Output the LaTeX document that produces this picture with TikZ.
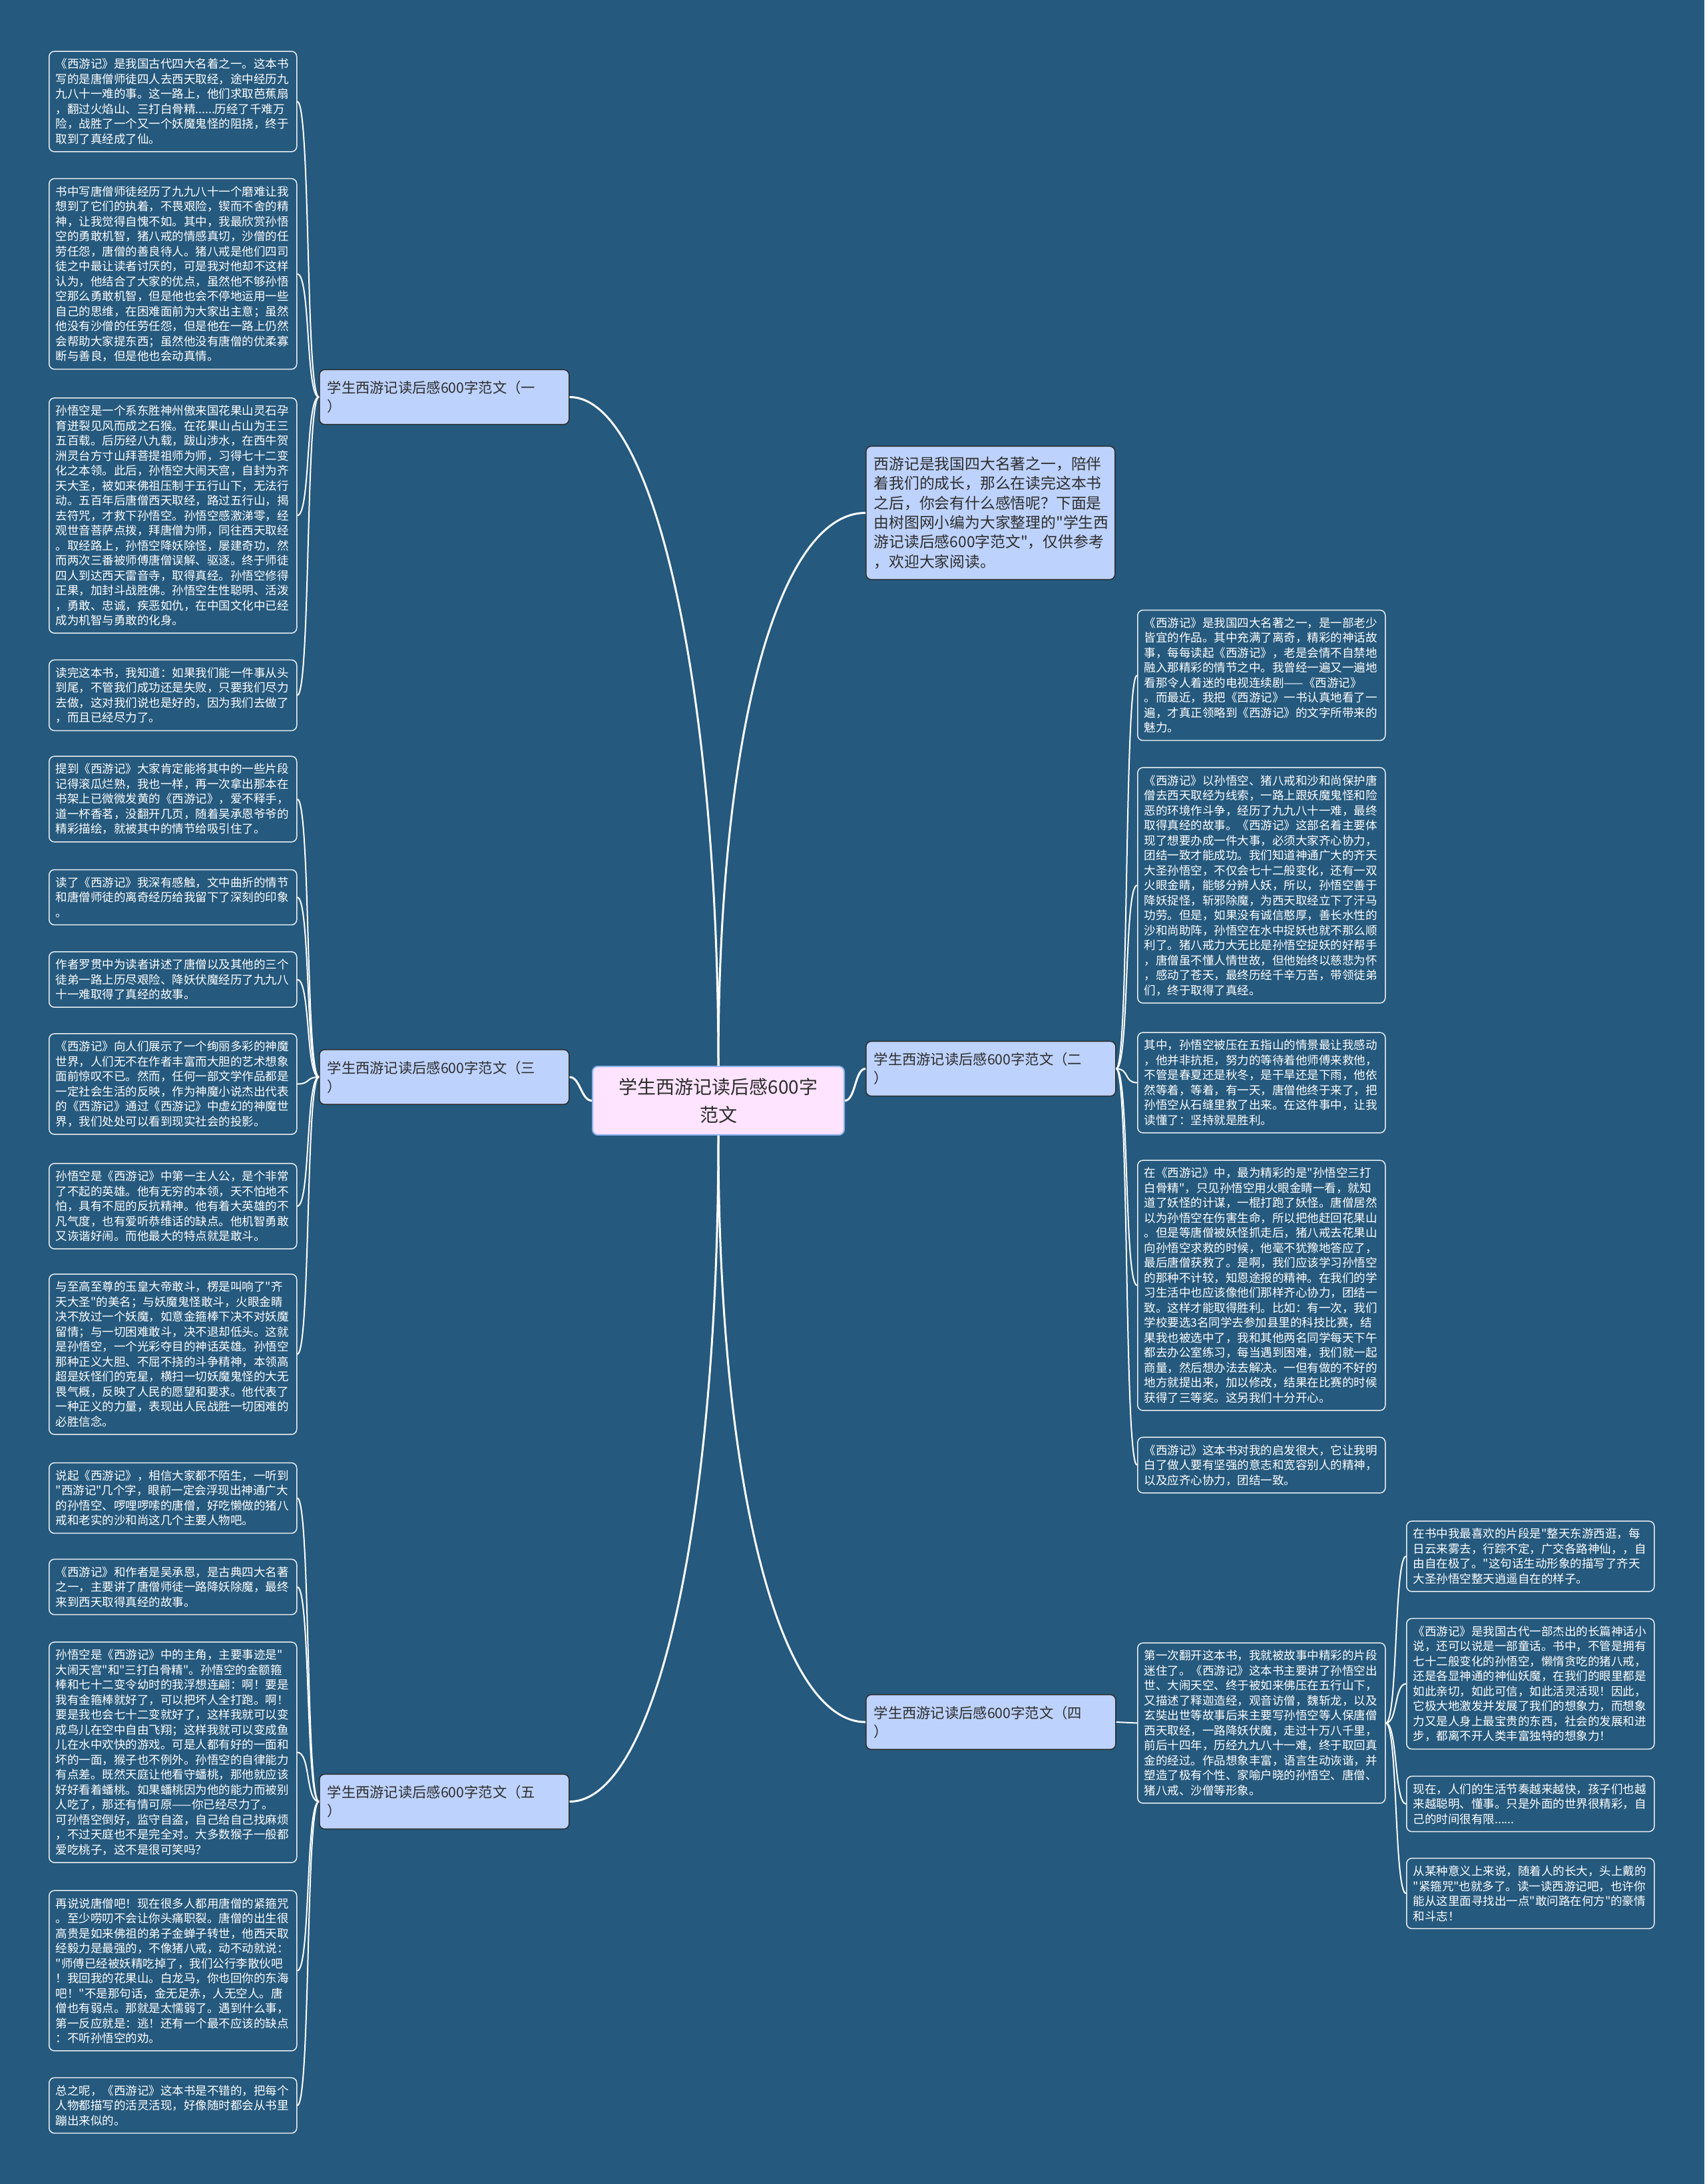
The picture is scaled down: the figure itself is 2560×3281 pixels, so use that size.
\documentclass[tikz,border=0pt]{standalone}
\usepackage{fontspec}
\setmainfont{Noto Sans CJK SC}
\newfontfamily\cjk{Noto Sans CJK SC}
\definecolor{bg}{RGB}{37,89,125}
\definecolor{bfill}{RGB}{189,210,252}
\definecolor{cfill}{RGB}{255,228,255}
\definecolor{cline}{RGB}{140,180,240}
\definecolor{dtext}{RGB}{45,45,45}
\begin{document}
\begin{tikzpicture}[x=0.5pt,y=-0.5pt,
  leaf/.style={draw=white!90!bg, fill=bg, rounded corners=4pt, line width=0.75pt,
    text=white, font=\cjk\fontsize{8.75}{11.25}\selectfont, text width=176pt,
    inner xsep=5pt, inner ysep=5.5pt, align=left, anchor=west},
  branch/.style={draw=dtext, fill=bfill, rounded corners=4pt, line width=0.75pt,
    text=dtext, font=\cjk\fontsize{10.65}{14}\selectfont, text width=175.5pt,
    inner xsep=6pt, inner ysep=8.5pt, align=left, anchor=west},
  intro/.style={draw=dtext, fill=bfill, rounded corners=4pt, line width=0.75pt,
    text=dtext, font=\cjk\fontsize{11.4}{14.65}\selectfont, text width=175pt,
    inner xsep=6pt, inner ysep=8pt, align=left, anchor=west},
  ctrbox/.style={draw=cline, fill=cfill, rounded corners=4pt, line width=1pt,
    text=dtext, font=\cjk\fontsize{14}{21}\selectfont, text width=175pt,
    inner xsep=7pt, inner ysep=8.75pt, align=center},
  mainedge/.style={draw=white, line width=1.5pt},
  leafedge/.style={draw=white, line width=1pt}
]
\fill[bg] (0,0) rectangle (2560,3281);
\useasboundingbox (0,0) rectangle (2560,3281);

% ---------- centre, intro, branches ----------
\node[ctrbox] (ctr) at (1079,1653.5) {学生西游记读后感600字\\范文};
\node[intro] (intro) at (1300,770.5) {西游记是我国四大名著之一，陪伴\\着我们的成长，那么在读完这本书\\之后，你会有什么感悟呢？下面是\\由树图网小编为大家整理的"学生西\\游记读后感600字范文"，仅供参考\\，欢迎大家阅读。};
\node[branch] (b1) at (479,596.5) {学生西游记读后感600字范文（一\\）};
\node[branch] (b3) at (479,1618) {学生西游记读后感600字范文（三\\）};
\node[branch] (b5) at (479,2706.5) {学生西游记读后感600字范文（五\\）};
\node[branch] (b2) at (1300,1605.5) {学生西游记读后感600字范文（二\\）};
\node[branch] (b4) at (1300,2587) {学生西游记读后感600字范文（四\\）};

% ---------- branch (一) leaves ----------
\node[leaf] (l1) at (73,152.5) {《西游记》是我国古代四大名着之一。这本书\\写的是唐僧师徒四人去西天取经，途中经历九\\九八十一难的事。这一路上，他们求取芭蕉扇\\，翻过火焰山、三打白骨精......历经了千难万\\险，战胜了一个又一个妖魔鬼怪的阻挠，终于\\取到了真经成了仙。};
\node[leaf] (l2) at (73,411.5) {书中写唐僧师徒经历了九九八十一个磨难让我\\想到了它们的执着，不畏艰险，锲而不舍的精\\神，让我觉得自愧不如。其中，我最欣赏孙悟\\空的勇敢机智，猪八戒的情感真切，沙僧的任\\劳任怨，唐僧的善良待人。猪八戒是他们四司\\徒之中最让读者讨厌的，可是我对他却不这样\\认为，他结合了大家的优点，虽然他不够孙悟\\空那么勇敢机智，但是他也会不停地运用一些\\自己的思维，在困难面前为大家出主意；虽然\\他没有沙僧的任劳任怨，但是他在一路上仍然\\会帮助大家提东西；虽然他没有唐僧的优柔寡\\断与善良，但是他也会动真情。};
\node[leaf] (l3) at (73,774.5) {孙悟空是一个系东胜神州傲来国花果山灵石孕\\育迸裂见风而成之石猴。在花果山占山为王三\\五百载。后历经八九载，跋山涉水，在西牛贺\\洲灵台方寸山拜菩提祖师为师，习得七十二变\\化之本领。此后，孙悟空大闹天宫，自封为齐\\天大圣，被如来佛祖压制于五行山下，无法行\\动。五百年后唐僧西天取经，路过五行山，揭\\去符咒，才救下孙悟空。孙悟空感激涕零，经\\观世音菩萨点拨，拜唐僧为师，同往西天取经\\。取经路上，孙悟空降妖除怪，屡建奇功，然\\而两次三番被师傅唐僧误解、驱逐。终于师徒\\四人到达西天雷音寺，取得真经。孙悟空修得\\正果，加封斗战胜佛。孙悟空生性聪明、活泼\\，勇敢、忠诚，疾恶如仇，在中国文化中已经\\成为机智与勇敢的化身。};
\node[leaf] (l4) at (73,1044.5) {读完这本书，我知道：如果我们能一件事从头\\到尾，不管我们成功还是失败，只要我们尽力\\去做，这对我们说也是好的，因为我们去做了\\，而且已经尽力了。};

% ---------- branch (三) leaves ----------
\node[leaf] (l5) at (73,1200.5) {提到《西游记》大家肯定能将其中的一些片段\\记得滚瓜烂熟，我也一样，再一次拿出那本在\\书架上已微微发黄的《西游记》，爱不释手，\\道一杯香茗，没翻开几页，随着吴承恩爷爷的\\精彩描绘，就被其中的情节给吸引住了。};
\node[leaf] (l6) at (73,1348) {读了《西游记》我深有感触，文中曲折的情节\\和唐僧师徒的离奇经历给我留下了深刻的印象\\。};
\node[leaf] (l7) at (73,1471.5) {作者罗贯中为读者讲述了唐僧以及其他的三个\\徒弟一路上历尽艰险、降妖伏魔经历了九九八\\十一难取得了真经的故事。};
\node[leaf] (l8) at (73,1628.5) {《西游记》向人们展示了一个绚丽多彩的神魔\\世界，人们无不在作者丰富而大胆的艺术想象\\面前惊叹不已。然而，任何一部文学作品都是\\一定社会生活的反映，作为神魔小说杰出代表\\的《西游记》通过《西游记》中虚幻的神魔世\\界，我们处处可以看到现实社会的投影。};
\node[leaf] (l9) at (73,1812) {孙悟空是《西游记》中第一主人公，是个非常\\了不起的英雄。他有无穷的本领，天不怕地不\\怕，具有不屈的反抗精神。他有着大英雄的不\\凡气度，也有爱听恭维话的缺点。他机智勇敢\\又诙谐好闹。而他最大的特点就是敢斗。};
\node[leaf] (l10) at (73,2034.5) {与至高至尊的玉皇大帝敢斗，楞是叫响了"齐\\天大圣"的美名；与妖魔鬼怪敢斗，火眼金睛\\决不放过一个妖魔，如意金箍棒下决不对妖魔\\留情；与一切困难敢斗，决不退却低头。这就\\是孙悟空，一个光彩夺目的神话英雄。孙悟空\\那种正义大胆、不屈不挠的斗争精神，本领高\\超是妖怪们的克星，横扫一切妖魔鬼怪的大无\\畏气概，反映了人民的愿望和要求。他代表了\\一种正义的力量，表现出人民战胜一切困难的\\必胜信念。};

% ---------- branch (五) leaves ----------
\node[leaf] (l11) at (73,2250.5) {说起《西游记》，相信大家都不陌生，一听到\\"西游记"几个字，眼前一定会浮现出神通广大\\的孙悟空、啰哩啰嗦的唐僧，好吃懒做的猪八\\戒和老实的沙和尚这几个主要人物吧。};
\node[leaf] (l12) at (73,2384) {《西游记》和作者是吴承恩，是古典四大名著\\之一，主要讲了唐僧师徒一路降妖除魔，最终\\来到西天取得真经的故事。};
\node[leaf] (l13) at (73,2632.5) {孙悟空是《西游记》中的主角，主要事迹是"\\大闹天宫"和"三打白骨精"。孙悟空的金额箍\\棒和七十二变令幼时的我浮想连翩：啊！要是\\我有金箍棒就好了，可以把坏人全打跑。啊！\\要是我也会七十二变就好了，这样我就可以变\\成鸟儿在空中自由飞翔；这样我就可以变成鱼\\儿在水中欢快的游戏。可是人都有好的一面和\\坏的一面，猴子也不例外。孙悟空的自律能力\\有点差。既然天庭让他看守蟠桃，那他就应该\\好好看着蟠桃。如果蟠桃因为他的能力而被别\\人吃了，那还有情可原——你已经尽力了。\\可孙悟空倒好，监守自盗，自己给自己找麻烦\\，不过天庭也不是完全对。大多数猴子一般都\\爱吃桃子，这不是很可笑吗？};
\node[leaf] (l14) at (73,2960.5) {再说说唐僧吧！现在很多人都用唐僧的紧箍咒\\。至少唠叨不会让你头痛职裂。唐僧的出生很\\高贵是如来佛祖的弟子金蝉子转世，他西天取\\经毅力是最强的，不像猪八戒，动不动就说：\\"师傅已经被妖精吃掉了，我们公行李散伙吧\\！我回我的花果山。白龙马，你也回你的东海\\吧！"不是那句话，金无足赤，人无空人。唐\\僧也有弱点。那就是太懦弱了。遇到什么事，\\第一反应就是：逃！还有一个最不应该的缺点\\：不听孙悟空的劝。};
\node[leaf] (l15) at (73,3163) {总之呢，《西游记》这本书是不错的，把每个\\人物都描写的活灵活现，好像随时都会从书里\\蹦出来似的。};

% ---------- branch (二) leaves ----------
\node[leaf] (r1) at (1708,1014.5) {《西游记》是我国四大名著之一，是一部老少\\皆宜的作品。其中充满了离奇，精彩的神话故\\事，每每读起《西游记》，老是会情不自禁地\\融入那精彩的情节之中。我曾经一遍又一遍地\\看那令人着迷的电视连续剧——《西游记》\\。而最近，我把《西游记》一书认真地看了一\\遍，才真正领略到《西游记》的文字所带来的\\魅力。};
\node[leaf] (r2) at (1708,1330) {《西游记》以孙悟空、猪八戒和沙和尚保护唐\\僧去西天取经为线索，一路上跟妖魔鬼怪和险\\恶的环境作斗争，经历了九九八十一难，最终\\取得真经的故事。《西游记》这部名着主要体\\现了想要办成一件大事，必须大家齐心协力，\\团结一致才能成功。我们知道神通广大的齐天\\大圣孙悟空，不仅会七十二般变化，还有一双\\火眼金睛，能够分辨人妖，所以，孙悟空善于\\降妖捉怪，斩邪除魔，为西天取经立下了汗马\\功劳。但是，如果没有诚信憨厚，善长水性的\\沙和尚助阵，孙悟空在水中捉妖也就不那么顺\\利了。猪八戒力大无比是孙悟空捉妖的好帮手\\，唐僧虽不懂人情世故，但他始终以慈悲为怀\\，感动了苍天，最终历经千辛万苦，带领徒弟\\们，终于取得了真经。};
\node[leaf] (r3) at (1708,1626.5) {其中，孙悟空被压在五指山的情景最让我感动\\，他并非抗拒，努力的等待着他师傅来救他，\\不管是春夏还是秋冬，是干旱还是下雨，他依\\然等着，等着，有一天，唐僧他终于来了，把\\孙悟空从石缝里救了出来。在这件事中，让我\\读懂了：坚持就是胜利。};
\node[leaf] (r4) at (1708,1931) {在《西游记》中，最为精彩的是"孙悟空三打\\白骨精"，只见孙悟空用火眼金睛一看，就知\\道了妖怪的计谋，一棍打跑了妖怪。唐僧居然\\以为孙悟空在伤害生命，所以把他赶回花果山\\。但是等唐僧被妖怪抓走后，猪八戒去花果山\\向孙悟空求救的时候，他毫不犹豫地答应了，\\最后唐僧获救了。是啊，我们应该学习孙悟空\\的那种不计较，知恩途报的精神。在我们的学\\习生活中也应该像他们那样齐心协力，团结一\\致。这样才能取得胜利。比如：有一次，我们\\学校要选3名同学去参加县里的科技比赛，结\\果我也被选中了，我和其他两名同学每天下午\\都去办公室练习，每当遇到困难，我们就一起\\商量，然后想办法去解决。一但有做的不好的\\地方就提出来，加以修改，结果在比赛的时候\\获得了三等奖。这另我们十分开心。};
\node[leaf] (r5) at (1708,2201) {《西游记》这本书对我的启发很大，它让我明\\白了做人要有坚强的意志和宽容别人的精神，\\以及应齐心协力，团结一致。};

% ---------- branch (四) ----------
\node[leaf] (c4) at (1708,2588.5) {第一次翻开这本书，我就被故事中精彩的片段\\迷住了。《西游记》这本书主要讲了孙悟空出\\世、大闹天空、终于被如来佛压在五行山下，\\又描述了释迦造经，观音访僧，魏斩龙，以及\\玄奘出世等故事后来主要写孙悟空等人保唐僧\\西天取经，一路降妖伏魔，走过十万八千里，\\前后十四年，历经九九八十一难，终于取回真\\金的经过。作品想象丰富，语言生动诙谐，并\\塑造了极有个性、家喻户晓的孙悟空、唐僧、\\猪八戒、沙僧等形象。};
\node[leaf] (f1) at (2112,2338) {在书中我最喜欢的片段是"整天东游西逛，每\\日云来雾去，行踪不定，广交各路神仙，，自\\由自在极了。"这句话生动形象的描写了齐天\\大圣孙悟空整天逍遥自在的样子。};
\node[leaf] (f2) at (2112,2529.5) {《西游记》是我国古代一部杰出的长篇神话小\\说，还可以说是一部童话。书中，不管是拥有\\七十二般变化的孙悟空，懒惰贪吃的猪八戒，\\还是各显神通的神仙妖魔，在我们的眼里都是\\如此亲切，如此可信，如此活灵活现！因此，\\它极大地激发并发展了我们的想象力，而想象\\力又是人身上最宝贵的东西，社会的发展和进\\步，都离不开人类丰富独特的想象力！};
\node[leaf] (f3) at (2112,2710) {现在，人们的生活节奏越来越快，孩子们也越\\来越聪明、懂事。只是外面的世界很精彩，自\\己的时间很有限......};
\node[leaf] (f4) at (2112,2844.5) {从某种意义上来说，随着人的长大，头上戴的\\"紧箍咒"也就多了。读一读西游记吧，也许你\\能从这里面寻找出一点"敢问路在何方"的豪情\\和斗志！};

% ---------- main connectors ----------
\draw[mainedge] (ctr.north) .. controls +(0,-555) and +(130,0) .. (b1.east);
\draw[mainedge] (ctr.north) .. controls +(0,-513) and +(-128,0) .. (intro.west);
\draw[mainedge] (ctr.east) .. controls +(16,0) and +(-16,0) .. (b2.west);
\draw[mainedge] (ctr.west) .. controls +(-16,0) and +(16,0) .. (b3.east);
\draw[mainedge] (ctr.south) .. controls +(0,530) and +(-128,0) .. (b4.west);
\draw[mainedge] (ctr.south) .. controls +(0,580) and +(130,0) .. (b5.east);

% ---------- leaf connectors ----------
\foreach \l in {l1,l2,l3,l4}
  \draw[leafedge] (b1.west) .. controls +(-20,0) and +(20,0) .. (\l.east);
\foreach \l in {l5,l6,l7,l8,l9,l10}
  \draw[leafedge] (b3.west) .. controls +(-20,0) and +(20,0) .. (\l.east);
\foreach \l in {l11,l12,l13,l14,l15}
  \draw[leafedge] (b5.west) .. controls +(-20,0) and +(20,0) .. (\l.east);
\foreach \l in {r1,r2,r3,r4,r5}
  \draw[leafedge] (b2.east) .. controls +(20,0) and +(-20,0) .. (\l.west);
\draw[leafedge] (b4.east) -- (c4.west);
\foreach \l in {f1,f2,f3,f4}
  \draw[leafedge] (c4.east) .. controls +(18,0) and +(-18,0) .. (\l.west);
\end{tikzpicture}
\end{document}
